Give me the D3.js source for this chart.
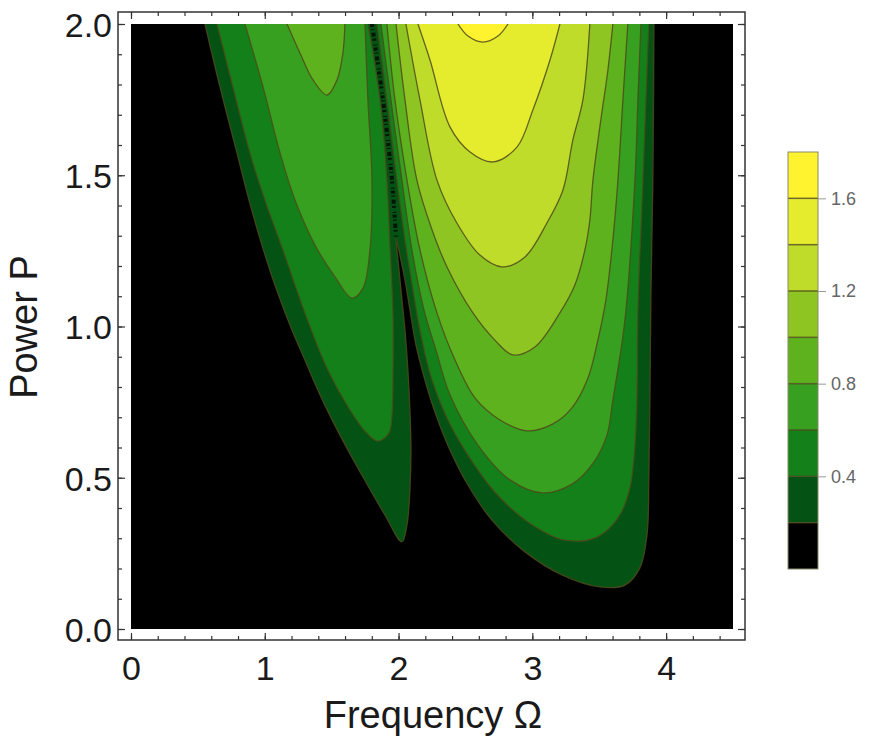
<!DOCTYPE html>
<html>
<head>
<meta charset="utf-8">
<script src="https://cdn.jsdelivr.net/npm/d3@7"></script>
<style>
body { margin: 0; background: #fff; }
svg { display: block; font-family: "Liberation Sans", Arial, sans-serif; }
</style>
</head>
<body>
<svg id="chart" width="873" height="755"></svg>
<script>
// contour levels, band colours (band 0 is below the first level)
var levels = [0.2, 0.4, 0.6, 0.8, 1.0, 1.2, 1.4, 1.6];
var legendMax = 1.8;
var bandColors = ["#000000", "#045214", "#138019", "#37a020", "#5db21e", "#8fc522", "#c0dc2a", "#e5ec2e", "#fff22e"];
var xTicks = [0, 1, 2, 3, 4];
var yTicks = [0, 0.5, 1.0, 1.5, 2.0];
var legendTicks = [0.4, 0.8, 1.2, 1.6];

// contour lines, as [Omega, P]
var c02 = [[0.553, 2.0], [0.665, 1.792], [0.792, 1.574], [0.882, 1.418], [0.979, 1.269], [1.076, 1.137], [1.188, 1.005], [1.300, 0.889],
    [1.413, 0.774], [1.562, 0.641], [1.726, 0.509], [1.898, 0.377], [2.025, 0.288],
    [2.063, 0.344], [2.085, 0.460], [2.093, 0.592], [2.085, 0.724], [2.070, 0.856], [2.048, 0.988], [2.018, 1.121], [1.996, 1.220], [1.981, 1.293],
    [2.010, 1.236], [2.048, 1.154], [2.085, 1.055], [2.130, 0.939], [2.197, 0.823], [2.280, 0.707], [2.384, 0.592], [2.519, 0.476], [2.698, 0.360],
    [2.945, 0.255], [3.221, 0.179], [3.505, 0.139], [3.692, 0.145], [3.804, 0.202], [3.857, 0.311], [3.871, 0.493], [3.879, 0.757],
    [3.886, 1.088], [3.901, 1.484], [3.909, 2.0]];
var c04left = [[0.643, 2.0], [0.762, 1.792], [0.889, 1.574], [1.001, 1.418], [1.136, 1.253], [1.300, 1.045], [1.472, 0.856], [1.637, 0.724],
    [1.756, 0.651], [1.846, 0.621], [1.928, 0.648], [1.951, 0.707], [1.958, 0.823], [1.958, 1.045], [1.936, 1.263], [1.913, 1.484],
    [1.861, 1.749], [1.771, 2.0]];
var c04right = [[1.839, 2.0], [1.913, 1.749], [1.988, 1.484], [2.048, 1.286], [2.108, 1.121], [2.167, 0.972], [2.250, 0.823], [2.369, 0.691],
    [2.519, 0.575], [2.720, 0.453], [2.967, 0.354], [3.244, 0.294], [3.483, 0.304], [3.640, 0.367], [3.729, 0.466], [3.767, 0.608],
    [3.782, 0.757], [3.789, 1.045], [3.827, 1.484], [3.871, 2.0]];
var c06left = [[0.852, 2.0], [0.987, 1.792], [1.114, 1.574], [1.226, 1.418], [1.375, 1.269], [1.525, 1.164], [1.652, 1.094], [1.734, 1.127],
    [1.786, 1.253], [1.801, 1.484], [1.771, 1.749], [1.749, 2.0]];
var c06right = [[1.868, 2.0], [1.943, 1.749], [2.025, 1.484], [2.100, 1.253], [2.190, 1.055], [2.280, 0.922], [2.384, 0.774], [2.593, 0.608],
    [2.833, 0.493], [3.079, 0.450], [3.296, 0.479], [3.460, 0.552], [3.558, 0.641], [3.602, 0.757], [3.692, 1.021], [3.767, 1.484],
    [3.789, 1.749], [3.812, 2.0]];
var c08left = [[1.166, 2.0], [1.263, 1.904], [1.360, 1.815], [1.465, 1.765], [1.540, 1.815], [1.584, 1.904], [1.599, 2.0]];
var c08right = [[1.913, 2.0], [1.973, 1.749], [2.063, 1.484], [2.160, 1.253], [2.287, 1.045], [2.422, 0.889], [2.571, 0.764], [2.758, 0.691],
    [2.960, 0.655], [3.154, 0.678], [3.296, 0.731], [3.416, 0.830], [3.490, 0.955], [3.550, 1.088], [3.602, 1.286], [3.640, 1.484],
    [3.677, 1.749], [3.714, 2.0]];
var c10 = [[1.981, 2.0], [2.048, 1.749], [2.137, 1.484], [2.250, 1.320], [2.362, 1.197], [2.556, 1.045], [2.720, 0.955], [2.855, 0.906],
    [3.019, 0.932], [3.206, 1.045], [3.318, 1.137], [3.393, 1.253], [3.430, 1.352], [3.453, 1.484], [3.512, 1.683], [3.565, 1.848], [3.602, 2.0]];
var c12 = [[2.055, 2.0], [2.160, 1.749], [2.287, 1.484], [2.436, 1.342], [2.608, 1.236], [2.773, 1.197], [2.945, 1.230], [3.109, 1.342],
    [3.229, 1.451], [3.303, 1.617], [3.378, 1.749], [3.430, 2.0]];
var c14 = [[2.145, 2.0], [2.235, 1.881], [2.384, 1.660], [2.534, 1.577], [2.706, 1.544], [2.885, 1.593], [3.004, 1.716], [3.132, 1.881], [3.206, 2.0]];
var c16 = [[2.444, 2.0], [2.519, 1.960], [2.631, 1.940], [2.743, 1.960], [2.818, 2.0]];
// noisy valley between the two lobes
var ridge = [[1.801, 2.0], [1.883, 1.749], [1.951, 1.484], [1.981, 1.293]];

var contours = [
    {"level": 0.2, "points": c02},
    {"level": 0.4, "points": c04left},
    {"level": 0.4, "points": c04right},
    {"level": 0.6, "points": c06left},
    {"level": 0.6, "points": c06right},
    {"level": 0.8, "points": c08left},
    {"level": 0.8, "points": c08right},
    {"level": 1.0, "points": c10},
    {"level": 1.2, "points": c12},
    {"level": 1.4, "points": c14},
    {"level": 1.6, "points": c16}
];

var PLOT = {"left": 131, "right": 733, "top": 24, "bottom": 629};
var FRAME = {"left": 118, "right": 745, "top": 12, "bottom": 640};
var LINE_COLOR = "#4f4a1c";

var x = d3.scaleLinear().domain([0, 4.5]).range([PLOT.left, PLOT.right]);
var y = d3.scaleLinear().domain([0, 2]).range([PLOT.bottom, PLOT.top]);

function bandColor(level) {
    return bandColors[levels.indexOf(level) + 1];
}

var svg = d3.select("#chart");

svg.append("defs").append("clipPath")
    .attr("id", "plot-clip")
    .append("rect")
    .attr("x", PLOT.left).attr("y", PLOT.top)
    .attr("width", PLOT.right - PLOT.left)
    .attr("height", PLOT.bottom - PLOT.top);

var plot = svg.append("g").attr("clip-path", "url(#plot-clip)");

plot.append("rect")
    .attr("x", PLOT.left).attr("y", PLOT.top)
    .attr("width", PLOT.right - PLOT.left)
    .attr("height", PLOT.bottom - PLOT.top)
    .attr("fill", bandColors[0]);

var line = d3.line()
    .x(function (d) { return x(d[0]); })
    .y(function (d) { return y(d[1]); })
    .curve(d3.curveCatmullRom.alpha(0.5));

// every region touches the top edge, so closing the path runs along P = 2
plot.selectAll(".region")
    .data(contours)
    .enter().append("path")
    .attr("class", "region")
    .attr("d", function (d) { return line(d.points) + "Z"; })
    .attr("fill", function (d) { return bandColor(d.level); });

plot.append("path")
    .attr("d", line(ridge))
    .attr("fill", "none")
    .attr("stroke", "#000")
    .attr("stroke-width", 4)
    .attr("stroke-dasharray", "3 2 1 3 4 2 2 4 1 2")
    .attr("opacity", 0.75);

plot.selectAll(".contour")
    .data(contours)
    .enter().append("path")
    .attr("class", "contour")
    .attr("d", function (d) { return line(d.points); })
    .attr("fill", "none")
    .attr("stroke", LINE_COLOR)
    .attr("stroke-width", 1.3)
    .attr("opacity", 0.85);

// frame with ticks on all four sides
var xMinor = d3.range(0, 4.5, 0.2);
var yMinor = d3.range(0, 2.05, 0.1);

function tickAxis(axis, transform) {
    var g = svg.append("g").attr("transform", transform).call(axis);
    g.select(".domain").remove();
    g.selectAll("line").attr("stroke", "#333").attr("stroke-width", 1.2);
    return g;
}

tickAxis(d3.axisBottom(x).tickValues(xMinor).tickSize(-4).tickFormat(""), "translate(0," + FRAME.bottom + ")");
tickAxis(d3.axisTop(x).tickValues(xMinor).tickSize(-4).tickFormat(""), "translate(0," + FRAME.top + ")");
tickAxis(d3.axisLeft(y).tickValues(yMinor).tickSize(-4).tickFormat(""), "translate(" + FRAME.left + ",0)");
tickAxis(d3.axisRight(y).tickValues(yMinor).tickSize(-4).tickFormat(""), "translate(" + FRAME.right + ",0)");
tickAxis(d3.axisTop(x).tickValues(xTicks).tickSize(-7).tickFormat(""), "translate(0," + FRAME.top + ")");
tickAxis(d3.axisRight(y).tickValues(yTicks).tickSize(-7).tickFormat(""), "translate(" + FRAME.right + ",0)");

var xAxis = tickAxis(d3.axisBottom(x).tickValues(xTicks).tickSize(-7).tickPadding(16).tickFormat(d3.format("d")),
    "translate(0," + FRAME.bottom + ")");
var yAxis = tickAxis(d3.axisLeft(y).tickValues(yTicks).tickSize(-7).tickPadding(6).tickFormat(d3.format(".1f")),
    "translate(" + FRAME.left + ",0)");

svg.selectAll(".tick text")
    .attr("font-family", "Liberation Sans, Arial, sans-serif")
    .attr("font-size", 34)
    .attr("fill", "#1a1a1a");
yAxis.selectAll(".tick text").attr("dy", "0.36em");

svg.append("rect")
    .attr("x", FRAME.left).attr("y", FRAME.top)
    .attr("width", FRAME.right - FRAME.left)
    .attr("height", FRAME.bottom - FRAME.top)
    .attr("fill", "none")
    .attr("stroke", "#333")
    .attr("stroke-width", 1.5);

svg.append("text")
    .attr("x", 433).attr("y", 728)
    .attr("text-anchor", "middle")
    .attr("font-size", 38)
    .attr("fill", "#1a1a1a")
    .text("Frequency Ω");

svg.append("text")
    .attr("transform", "translate(37,327) rotate(-90)")
    .attr("text-anchor", "middle")
    .attr("font-size", 38)
    .attr("fill", "#1a1a1a")
    .text("Power P");

// legend
var LEGEND = {"left": 788, "width": 30, "top": 152, "bottom": 569};
var yl = d3.scaleLinear().domain([0, legendMax]).range([LEGEND.bottom, LEGEND.top]);
var bandEdges = [0].concat(levels).concat([legendMax]);

var legend = svg.append("g");
legend.selectAll("rect")
    .data(bandColors)
    .enter().append("rect")
    .attr("x", LEGEND.left)
    .attr("width", LEGEND.width)
    .attr("y", function (d, i) { return yl(bandEdges[i + 1]); })
    .attr("height", function (d, i) { return yl(bandEdges[i]) - yl(bandEdges[i + 1]); })
    .attr("fill", function (d) { return d; });

legend.selectAll(".sep")
    .data(levels)
    .enter().append("line")
    .attr("class", "sep")
    .attr("x1", LEGEND.left).attr("x2", LEGEND.left + LEGEND.width)
    .attr("y1", function (d) { return yl(d); })
    .attr("y2", function (d) { return yl(d); })
    .attr("stroke", LINE_COLOR)
    .attr("stroke-width", 1.5)
    .attr("opacity", 0.8);

legend.append("rect")
    .attr("x", LEGEND.left).attr("y", LEGEND.top)
    .attr("width", LEGEND.width)
    .attr("height", LEGEND.bottom - LEGEND.top)
    .attr("fill", "none")
    .attr("stroke", "#8a8a6a")
    .attr("stroke-width", 1);

var legendAxis = svg.append("g")
    .attr("transform", "translate(" + (LEGEND.left + LEGEND.width) + ",0)")
    .call(d3.axisRight(yl).tickValues(legendTicks).tickSize(8).tickPadding(5).tickFormat(d3.format(".1f")));
legendAxis.select(".domain").remove();
legendAxis.selectAll("line").attr("stroke", "#999");
legendAxis.selectAll("text")
    .attr("font-family", "Liberation Sans, Arial, sans-serif")
    .attr("font-size", 18)
    .attr("fill", "#666");
</script>
</body>
</html>
